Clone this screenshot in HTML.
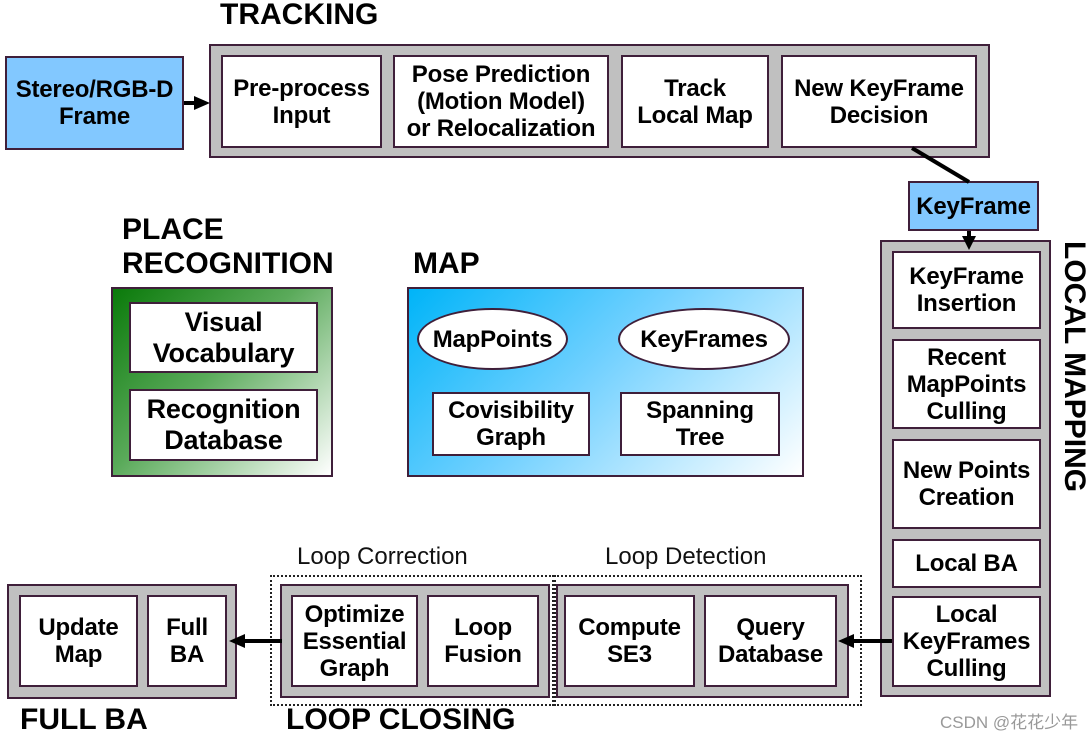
<!DOCTYPE html>
<html><head><meta charset="utf-8"><style>
body{margin:0;width:1092px;height:737px;background:#fff;position:relative;overflow:hidden;font-family:"Liberation Sans","Noto Sans CJK SC",sans-serif;}
.a{position:absolute;box-sizing:border-box;}
.g{background:#c0c0c0;border:2px solid #3f1f3a;}
.w{background:#fff;border:2px solid #3f1f3a;display:flex;align-items:center;justify-content:center;text-align:center;font-weight:bold;font-size:24px;line-height:27px;color:#000;letter-spacing:-0.2px;}
.b{background:#82c8ff;}
.t{position:absolute;font-weight:bold;font-size:30px;color:#000;white-space:nowrap;}
.n{position:absolute;font-size:24px;color:#111;white-space:nowrap;}
.d{border:2px dotted #222;}
</style></head><body>
<div class="t" style="left:220px;top:-2px">TRACKING</div>
<div class="a w b" style="left:5px;top:56px;width:179px;height:94px">Stereo/RGB-D<br>Frame</div>
<div class="a g" style="left:209px;top:44px;width:781px;height:114px"></div>
<div class="a w" style="left:221px;top:55px;width:161px;height:93px">Pre-process<br>Input</div>
<div class="a w" style="left:393px;top:55px;width:216px;height:93px">Pose Prediction<br>(Motion Model)<br>or Relocalization</div>
<div class="a w" style="left:621px;top:55px;width:148px;height:93px">Track<br>Local Map</div>
<div class="a w" style="left:781px;top:55px;width:196px;height:93px">New KeyFrame<br>Decision</div>
<div class="a w b" style="left:908px;top:181px;width:131px;height:50px">KeyFrame</div>

<div class="t" style="left:122px;top:213px">PLACE</div>
<div class="t" style="left:122px;top:247px">RECOGNITION</div>
<div class="a" style="left:111px;top:287px;width:222px;height:190px;border:2px solid #3f1f3a;background:linear-gradient(135deg,#0a7a0a 0%,#5aaa5a 45%,#fff 100%)"></div>
<div class="a w" style="left:129px;top:302px;width:189px;height:71px;font-size:27px;line-height:31px">Visual<br>Vocabulary</div>
<div class="a w" style="left:129px;top:389px;width:189px;height:72px;font-size:27px;line-height:31px">Recognition<br>Database</div>

<div class="t" style="left:413px;top:247px">MAP</div>
<div class="a" style="left:407px;top:287px;width:397px;height:190px;border:2px solid #3f1f3a;background:linear-gradient(135deg,#00b4f8 0%,#70d0ff 45%,#fff 100%)"></div>
<div class="a w" style="left:417px;top:308px;width:151px;height:62px;border-radius:50%">MapPoints</div>
<div class="a w" style="left:618px;top:308px;width:172px;height:62px;border-radius:50%">KeyFrames</div>
<div class="a w" style="left:432px;top:392px;width:158px;height:64px">Covisibility<br>Graph</div>
<div class="a w" style="left:620px;top:392px;width:160px;height:64px">Spanning<br>Tree</div>

<div class="a g" style="left:880px;top:240px;width:171px;height:457px"></div>
<div class="a w" style="left:892px;top:251px;width:149px;height:78px">KeyFrame<br>Insertion</div>
<div class="a w" style="left:892px;top:339px;width:149px;height:90px">Recent<br>MapPoints<br>Culling</div>
<div class="a w" style="left:892px;top:439px;width:149px;height:90px">New Points<br>Creation</div>
<div class="a w" style="left:892px;top:539px;width:149px;height:49px">Local BA</div>
<div class="a w" style="left:892px;top:596px;width:149px;height:91px">Local<br>KeyFrames<br>Culling</div>
<div class="t" style="left:1058px;top:241px;transform-origin:0 0;transform:translate(33px,0) rotate(90deg)">LOCAL MAPPING</div>

<div class="n" style="left:605px;top:543px">Loop Detection</div>
<div class="a d" style="left:554px;top:575px;width:308px;height:131px"></div>
<div class="a g" style="left:556px;top:584px;width:293px;height:114px"></div>
<div class="a w" style="left:564px;top:595px;width:131px;height:92px">Compute<br>SE3</div>
<div class="a w" style="left:704px;top:595px;width:133px;height:92px">Query<br>Database</div>

<div class="n" style="left:297px;top:543px">Loop Correction</div>
<div class="a d" style="left:270px;top:575px;width:284px;height:131px"></div>
<div class="a g" style="left:280px;top:584px;width:270px;height:114px"></div>
<div class="a w" style="left:291px;top:595px;width:127px;height:92px">Optimize<br>Essential<br>Graph</div>
<div class="a w" style="left:427px;top:595px;width:112px;height:92px">Loop<br>Fusion</div>

<div class="a g" style="left:7px;top:584px;width:230px;height:115px"></div>
<div class="a w" style="left:19px;top:595px;width:119px;height:92px">Update<br>Map</div>
<div class="a w" style="left:147px;top:595px;width:80px;height:92px">Full<br>BA</div>

<div class="t" style="left:20px;top:703px">FULL BA</div>
<div class="t" style="left:286px;top:703px">LOOP CLOSING</div>
<div class="n" style="left:940px;top:708px;font-size:17px;color:#999">CSDN @花花少年</div>

<svg class="a" style="left:0;top:0" width="1092" height="737">
<g stroke="#000" stroke-width="4" fill="#000">
<line x1="184" y1="103" x2="196" y2="103"/><polygon points="194,96 210,103 194,110" stroke="none"/>
<line x1="912" y1="148" x2="969" y2="182"/>
<line x1="969" y1="231" x2="969" y2="238"/><polygon points="962,236 969,250 976,236" stroke="none"/>
<line x1="892" y1="641" x2="852" y2="641"/><polygon points="854,634 838,641 854,648" stroke="none"/>
<line x1="282" y1="641" x2="243" y2="641"/><polygon points="245,634 229,641 245,648" stroke="none"/>
</g></svg>
</body></html>
